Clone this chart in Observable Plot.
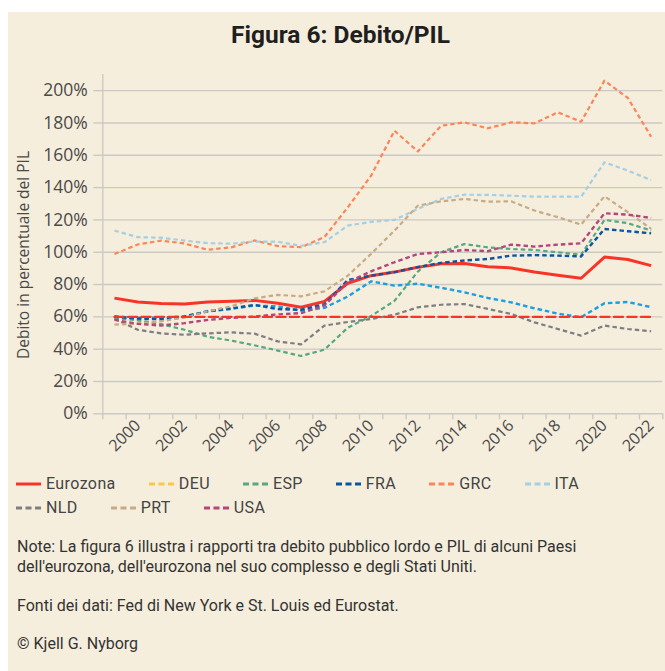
<!DOCTYPE html>
<html>
<head>
<meta charset="utf-8">
<script src="https://cdn.jsdelivr.net/npm/d3@7"></script>
<script src="https://cdn.jsdelivr.net/npm/@observablehq/plot@0.6"></script>
<style>
  html, body { margin: 0; padding: 0; background: #ffffff; }
  #panel { position: absolute; left: 8px; top: 12px; width: 657px; height: 659px; background: #f6eedd; overflow: hidden; }
  #title { position: absolute; left: 4px; top: 8px; width: 657px; text-align: center; font-family: "Roboto", "Liberation Sans", sans-serif; font-weight: 700; font-size: 24.5px; line-height: 30px; color: #1f1f1f; }
  #chart { position: absolute; left: 0; top: 48px; }
  #ylab { position: absolute; left: -115px; top: 232px; width: 260px; height: 22px; line-height: 22px; text-align: center; transform: rotate(-90deg); font-family: "Open Sans", sans-serif; font-size: 15.5px; color: #4a4a4a; white-space: nowrap; }
  .legrow { position: absolute; left: 8px; display: flex; column-gap: 33px; font-family: "Roboto", "Liberation Sans", sans-serif; font-size: 16px; letter-spacing: 0.4px; color: #444; line-height: 20px; }
  .item { display: flex; align-items: center; }
  .item svg { margin-right: 5px; }
  .note { position: absolute; left: 9px; font-family: "Roboto", "Liberation Sans", sans-serif; font-size: 16px; line-height: 20px; color: #333; white-space: nowrap; }
</style>
</head>
<body>
<div id="panel">
  <div id="title">Figura 6: Debito/PIL</div>
  <div id="chart"></div>
  <div id="ylab">Debito in percentuale del PIL</div>
  <div class="legrow" id="leg1" style="top:462px"></div>
  <div class="legrow" id="leg2" style="top:486px"></div>
  <div class="note" style="top:525px">Note: La figura 6 illustra i rapporti tra debito pubblico lordo e PIL di alcuni Paesi<br>dell'eurozona, dell'eurozona nel suo complesso e degli Stati Uniti.</div>
  <div class="note" style="top:584px">Fonti dei dati: Fed di New York e St. Louis ed Eurostat.</div>
  <div class="note" style="top:622px">© Kjell G. Nyborg</div>
</div>
<script>
// ---- Data (debt as % of GDP), years 1999–2022 ----
const years = [1999,2000,2001,2002,2003,2004,2005,2006,2007,2008,2009,2010,2011,2012,2013,2014,2015,2016,2017,2018,2019,2020,2021,2022];
const eurozona = [71.6,69.2,68.3,68.0,69.2,69.6,70.2,68.4,65.9,69.6,80.8,85.5,87.7,90.7,92.8,93.0,91.0,90.3,87.8,85.8,83.9,97.0,95.5,91.7];
const deu = [60.1,59.4,59.5,60.2,63.4,64.9,67.0,66.5,63.7,65.6,72.6,82.0,79.3,80.5,78.0,75.2,71.7,69.0,65.3,62.0,59.8,68.4,69.2,66.0];
const esp = [59.4,57.8,55.5,52.0,47.7,45.3,42.4,39.1,35.8,39.7,53.3,60.5,69.9,88.0,100.0,105.1,103.0,102.0,101.4,100.0,98.5,120.0,118.0,113.4];
const fra = [60.2,58.9,58.5,60.2,63.5,65.2,67.4,64.8,64.4,67.8,82.9,85.5,87.7,90.8,93.4,94.9,95.8,97.9,98.2,97.9,97.4,114.4,113.0,111.7];
const grc = [98.9,104.8,107.2,105.4,101.5,103.0,107.3,103.8,103.1,109.4,127.8,147.4,175.2,162.4,178.3,180.4,176.7,180.4,179.8,186.6,180.8,206.2,195.5,171.5];
const ita = [113.4,109.3,109.0,107.2,105.6,105.3,106.6,106.5,104.0,106.2,116.5,118.8,120.0,126.8,133.0,135.6,135.5,135.0,134.4,134.4,134.4,155.6,150.5,144.7];
const nld = [58.8,52.0,49.8,48.9,49.8,50.4,49.6,44.8,43.0,54.6,56.8,58.7,61.3,65.9,67.5,67.9,64.9,61.8,56.6,52.5,48.4,54.6,52.5,51.1];
const prt = [55.2,55.8,57.3,59.5,63.5,66.5,71.5,73.6,72.7,75.8,85.5,99.0,113.4,128.8,131.5,133.0,131.3,131.5,125.8,121.7,117.1,134.6,124.8,114.5];
const usa = [58.1,55.7,54.6,56.1,58.1,59.4,60.2,61.5,62.3,67.1,81.4,88.2,93.8,98.9,100.0,101.4,100.6,104.7,103.5,104.7,105.5,124.1,123.3,121.2];
const soglia = [60,60,60,60,60,60,60,60,60,60,60,60,60,60,60,60,60,60,60,60,60,60,60,60];

const yTicks = [0,20,40,60,80,100,120,140,160,180,200];
const xLabelYears = [2000,2002,2004,2006,2008,2010,2012,2014,2016,2018,2020,2022];

// ---- Series styling ----
const series = [
  {name: "Eurozona", values: eurozona, color: "#f83428", legendColor: "#f83428", width: 3, dash: null},
  {name: "DEU", values: deu, color: "#1a9fe2", legendColor: "#fbc844", width: 2.4, dash: "4.5,3"},
  {name: "ESP", values: esp, color: "#55a880", legendColor: "#55a880", width: 2.2, dash: "4.5,3"},
  {name: "FRA", values: fra, color: "#0b55a0", legendColor: "#0b55a0", width: 2.4, dash: "4.5,3"},
  {name: "GRC", values: grc, color: "#fd8658", legendColor: "#fd8658", width: 2.2, dash: "4.5,3"},
  {name: "ITA", values: ita, color: "#a5cfe3", legendColor: "#a5cfe3", width: 2.2, dash: "4.5,3"},
  {name: "NLD", values: nld, color: "#7d7d82", legendColor: "#7d7d82", width: 2.2, dash: "4.5,3"},
  {name: "PRT", values: prt, color: "#c8ab86", legendColor: "#c8ab86", width: 2.2, dash: "4.5,3"},
  {name: "USA", values: usa, color: "#b4467b", legendColor: "#b4467b", width: 2.4, dash: "4.5,3"}
];

const toRows = (arr) => years.map((yr, i) => ({year: yr, value: arr[i]}));
const lineMark = (s) => Plot.line(toRows(s.values), {
  x: "year", y: "value", stroke: s.color, strokeWidth: s.width,
  strokeDasharray: s.dash || undefined, strokeLinejoin: "round", strokeLinecap: "butt"
});

const gridColor = "#cbc9c4";
const boundaries = d3.range(years[0] - 0.5, years[years.length - 1] + 1, 1);

const chart = Plot.plot({
  width: 657,
  height: 404,
  marginLeft: 94.3,
  marginRight: 2.7,
  marginTop: 14,
  marginBottom: 50.7,
  style: {background: "transparent", fontFamily: "'Open Sans', sans-serif", fontSize: "16px", color: "#4a4a4a"},
  x: {domain: [years[0] - 0.5, years[years.length - 1] + 0.5]},
  y: {domain: [0, 210]},
  marks: [
    Plot.ruleY(yTicks, {stroke: gridColor, strokeWidth: 1.4}),
    Plot.ruleX([years[0] - 0.5], {stroke: gridColor, strokeWidth: 1.4}),
    Plot.axisY({ticks: yTicks, tickSize: 9, tickPadding: 6, tickFormat: d => d + "%", stroke: gridColor, strokeWidth: 1.4, label: null, fontSize: 17.5}),
    Plot.axisX({ticks: boundaries, tickSize: 6, tickFormat: () => "", stroke: gridColor, strokeWidth: 1.4, label: null}),
    Plot.axisX({ticks: xLabelYears, tickSize: 0, tickPadding: 9, tickRotate: -45, tickFormat: d => String(d), label: null, fontSize: 16}),
    lineMark(series[0]),
    ...series.slice(1).map(lineMark),
    Plot.line(toRows(soglia), {x: "year", y: "value", stroke: "#f83428", strokeWidth: 2.4, strokeDasharray: "9,4.5"})
  ]
});
document.getElementById("chart").appendChild(chart);

// ---- Legend ----
function swatch(s) {
  const ns = "http://www.w3.org/2000/svg";
  const svg = document.createElementNS(ns, "svg");
  svg.setAttribute("width", 25); svg.setAttribute("height", 6);
  const l = document.createElementNS(ns, "line");
  l.setAttribute("x1", 0); l.setAttribute("x2", 25); l.setAttribute("y1", 3); l.setAttribute("y2", 3);
  l.setAttribute("stroke", s.legendColor); l.setAttribute("stroke-width", 3);
  if (s.dash) l.setAttribute("stroke-dasharray", "6,3.5");
  svg.appendChild(l);
  return svg;
}
function addItem(rowId, s) {
  const item = document.createElement("div"); item.className = "item";
  item.appendChild(swatch(s));
  const t = document.createElement("span"); t.textContent = s.name;
  item.appendChild(t);
  document.getElementById(rowId).appendChild(item);
}
series.slice(0, 6).forEach(s => addItem("leg1", s));
series.slice(6).forEach(s => addItem("leg2", s));
</script>
</body>
</html>
